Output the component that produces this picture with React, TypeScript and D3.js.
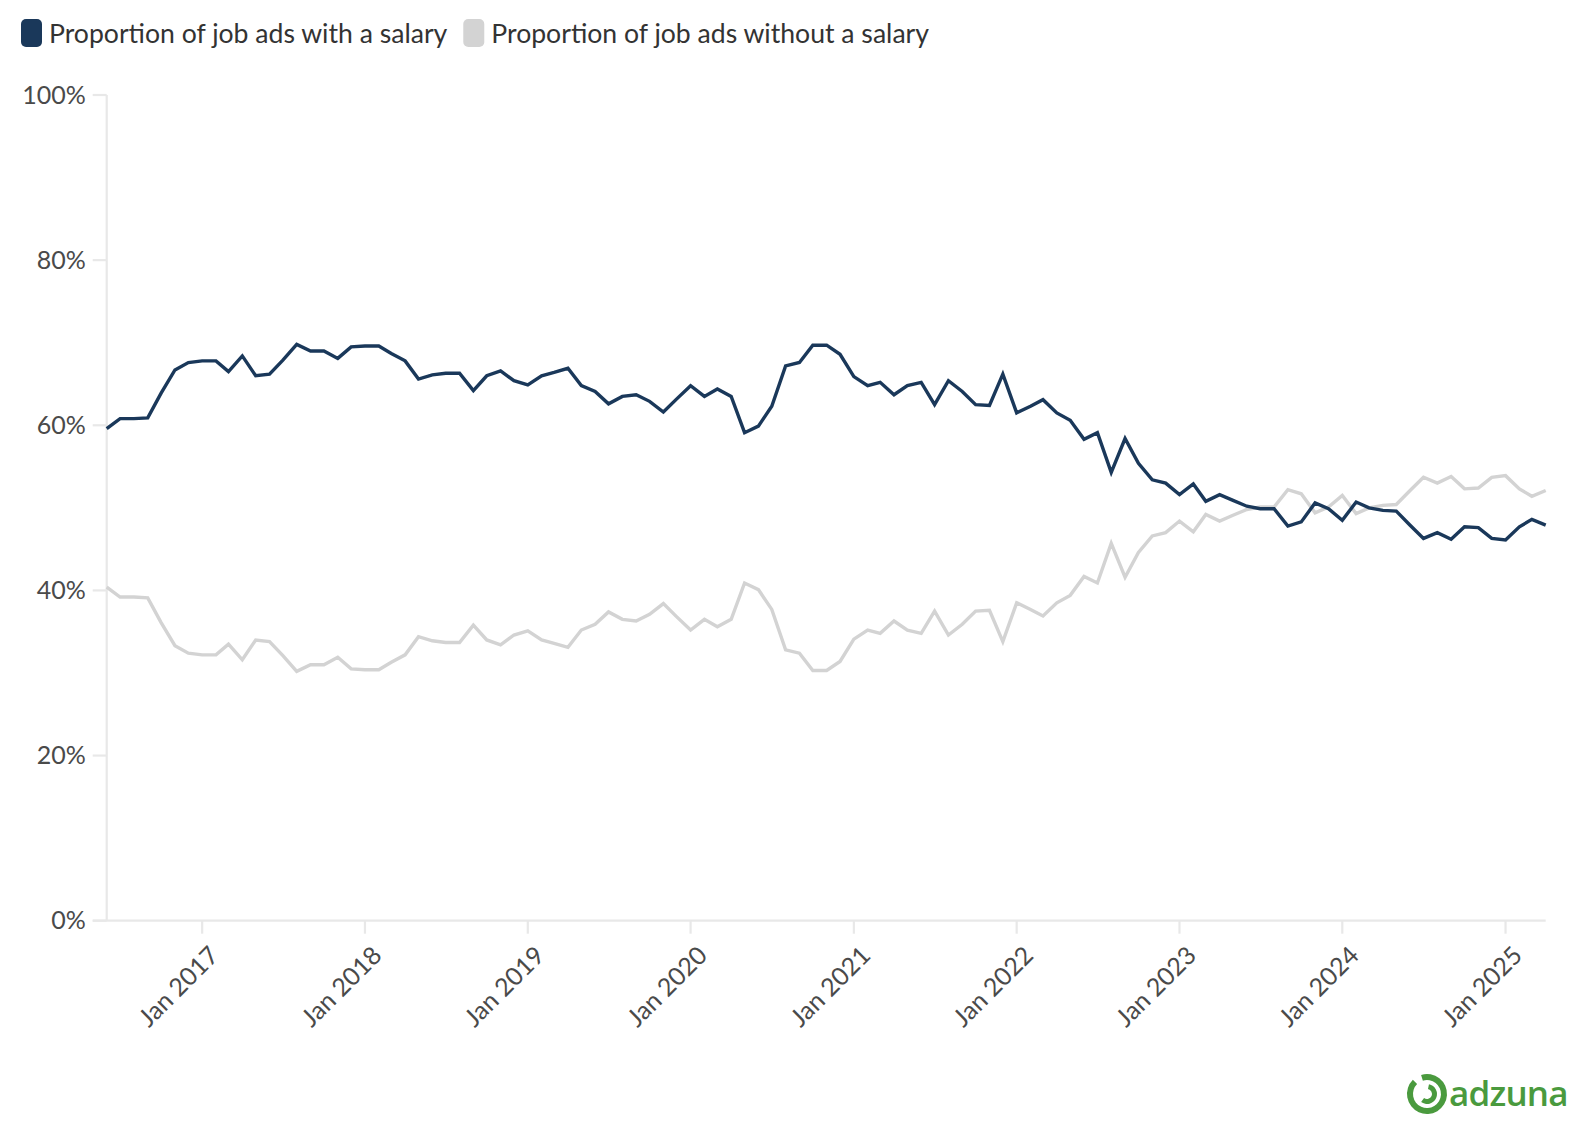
import React, { useEffect, useRef } from "react";
import * as d3 from "d3";

// monthly values, Jun 2016 .. Apr 2025 (percent)
const startMonth = new Date(2016, 5, 1);
const endMonth = new Date(2025, 3, 1);

const withSalary = [
  59.6, 60.8, 60.8, 60.9, 63.9, 66.7, 67.6, 67.8, 67.8, 66.5,
  68.4, 66.0, 66.2, 67.9, 69.8, 69.0, 69.0, 68.1, 69.5, 69.6,
  69.6, 68.7, 67.8, 65.6, 66.1, 66.3, 66.3, 64.2, 66.0, 66.6,
  65.4, 64.9, 66.0, 66.4, 66.9, 64.8, 64.1, 62.6, 63.5, 63.7,
  62.9, 61.6, 63.2, 64.8, 63.5, 64.4, 63.5, 59.1, 59.9, 62.3,
  67.2, 67.6, 69.7, 69.7, 68.6, 65.9, 64.8, 65.2, 63.7, 64.8,
  65.2, 62.5, 65.4, 64.1, 62.5, 62.4, 66.2, 61.5, 62.3, 63.1,
  61.5, 60.6, 58.3, 59.1, 54.3, 58.4, 55.4, 53.4, 53.0, 51.6,
  52.9, 50.8, 51.6, 50.9, 50.2, 49.9, 49.9, 47.8, 48.3, 50.6,
  49.9, 48.5, 50.7, 50.0, 49.7, 49.6, 47.9, 46.3, 47.0, 46.2,
  47.7, 47.6, 46.3, 46.1, 47.7, 48.6, 47.9,
];

const withoutSalary = [
  40.4, 39.2, 39.2, 39.1, 36.1, 33.3, 32.4, 32.2, 32.2, 33.5,
  31.6, 34.0, 33.8, 32.1, 30.2, 31.0, 31.0, 31.9, 30.5, 30.4,
  30.4, 31.3, 32.2, 34.4, 33.9, 33.7, 33.7, 35.8, 34.0, 33.4,
  34.6, 35.1, 34.0, 33.6, 33.1, 35.2, 35.9, 37.4, 36.5, 36.3,
  37.1, 38.4, 36.8, 35.2, 36.5, 35.6, 36.5, 40.9, 40.1, 37.7,
  32.8, 32.4, 30.3, 30.3, 31.4, 34.1, 35.2, 34.8, 36.3, 35.2,
  34.8, 37.5, 34.6, 35.9, 37.5, 37.6, 33.8, 38.5, 37.7, 36.9,
  38.5, 39.4, 41.7, 40.9, 45.7, 41.6, 44.6, 46.6, 47.0, 48.4,
  47.1, 49.2, 48.4, 49.1, 49.8, 50.1, 50.1, 52.2, 51.7, 49.4,
  50.1, 51.5, 49.3, 50.0, 50.3, 50.4, 52.1, 53.7, 53.0, 53.8,
  52.3, 52.4, 53.7, 53.9, 52.3, 51.4, 52.1,
];

const seriesNames = [
  "Proportion of job ads with a salary",
  "Proportion of job ads without a salary",
];
const seriesColors = ["#1a385a", "#d3d3d3"];
const yTicks = [0, 20, 40, 60, 80, 100];

const FONT = "'Source Sans Pro', Lato, 'Noto Sans', sans-serif";

const App: React.FC = () => {
  const ref = useRef<SVGSVGElement>(null);

  useEffect(() => {
    document.body.style.margin = "0";
    const width = 1582;
    const height = 1136;
    const m = { left: 106.7, right: 1545.7, top: 95, bottom: 920.7 };

    const svg = d3.select(ref.current);
    svg.selectAll("*").remove();
    svg.attr("width", width).attr("height", height);

    // faint shadow at the bottom right
    const defs = svg.append("defs");
    const grad = defs
      .append("radialGradient")
      .attr("id", "shade")
      .attr("cx", "50%")
      .attr("cy", "100%")
      .attr("r", "60%");
    grad.append("stop").attr("offset", "0%").attr("stop-color", "#ececec").attr("stop-opacity", 0.9);
    grad.append("stop").attr("offset", "100%").attr("stop-color", "#ffffff").attr("stop-opacity", 0);
    svg
      .append("ellipse")
      .attr("cx", 1230)
      .attr("cy", 1170)
      .attr("rx", 520)
      .attr("ry", 120)
      .attr("fill", "url(#shade)");

    const months = withSalary.map((_, i) => d3.timeMonth.offset(startMonth, i));

    const x = d3.scaleTime().domain([startMonth, endMonth]).range([m.left, m.right]);
    const y = d3.scaleLinear().domain([0, 100]).range([m.bottom, m.top]);

    // y axis
    const yAxis = svg.append("g");
    yAxis
      .append("line")
      .attr("x1", m.left)
      .attr("x2", m.left)
      .attr("y1", m.top)
      .attr("y2", m.bottom)
      .attr("stroke", "#e8e8e8")
      .attr("stroke-width", 2.2);
    yTicks.forEach((t) => {
      yAxis
        .append("line")
        .attr("x1", m.left - 14)
        .attr("x2", m.left)
        .attr("y1", y(t))
        .attr("y2", y(t))
        .attr("stroke", "#e8e8e8")
        .attr("stroke-width", 2.2);
      yAxis
        .append("text")
        .attr("x", m.left - 21)
        .attr("y", y(t))
        .attr("dy", "0.35em")
        .attr("text-anchor", "end")
        .attr("font-family", FONT)
        .attr("font-size", 25)
        .attr("fill", "#4a4a4a")
        .text(`${t}%`);
    });

    // x axis
    const xAxis = svg.append("g");
    xAxis
      .append("line")
      .attr("x1", m.left - 14)
      .attr("x2", m.right)
      .attr("y1", m.bottom)
      .attr("y2", m.bottom)
      .attr("stroke", "#e8e8e8")
      .attr("stroke-width", 2.2);
    const years = d3.timeYear.range(new Date(2017, 0, 1), endMonth);
    const fmt = d3.timeFormat("Jan %Y");
    years.forEach((d) => {
      const px = x(d);
      xAxis
        .append("line")
        .attr("x1", px)
        .attr("x2", px)
        .attr("y1", m.bottom)
        .attr("y2", m.bottom + 13)
        .attr("stroke", "#e8e8e8")
        .attr("stroke-width", 2.2);
      xAxis
        .append("text")
        .attr("transform", `translate(${px + 12},${m.bottom + 30}) rotate(-45)`)
        .attr("text-anchor", "end")
        .attr("dy", "0.35em")
        .attr("font-family", FONT)
        .attr("font-size", 25)
        .attr("fill", "#4a4a4a")
        .text(fmt(d));
    });

    // lines
    const line = d3
      .line<number>()
      .x((_, i) => x(months[i]))
      .y((d) => y(d));

    [withoutSalary, withSalary].forEach((s, k) => {
      svg
        .append("path")
        .datum(s)
        .attr("fill", "none")
        .attr("stroke", seriesColors[1 - k])
        .attr("stroke-width", 3.4)
        .attr("d", line);
    });

    // legend
    const legend = svg.append("g");
    let lx = 21;
    seriesNames.forEach((name, i) => {
      legend
        .append("rect")
        .attr("x", lx)
        .attr("y", 19)
        .attr("width", 21)
        .attr("height", 28)
        .attr("rx", 5)
        .attr("fill", seriesColors[i]);
      const t = legend
        .append("text")
        .attr("x", lx + 28)
        .attr("y", 34)
        .attr("dy", "0.35em")
        .attr("font-family", FONT)
        .attr("font-size", 26.6)
        .attr("fill", "#333")
        .text(name);
      const w = (t.node() as SVGTextElement).getComputedTextLength();
      lx += 28 + w + 16;
    });

    // logo
    const logo = svg.append("g").attr("fill", "#4a9a3e");
    logo
      .append("path")
      .attr(
        "d",
        d3.arc()({ innerRadius: 14, outerRadius: 20, startAngle: -0.3, endAngle: Math.PI * 1.75 }) as string
      )
      .attr("transform", "translate(1427,1094)");
    logo
      .append("path")
      .attr(
        "d",
        d3.arc()({ innerRadius: 5, outerRadius: 10, startAngle: 0.2, endAngle: Math.PI * 1.2 }) as string
      )
      .attr("transform", "translate(1427,1094)");
    logo
      .append("text")
      .attr("x", 1449)
      .attr("y", 1106)
      .attr("font-family", "'Open Sans', 'Noto Sans', sans-serif")
      .attr("font-weight", 600)
      .attr("font-size", 35)
      .attr("letter-spacing", -0.8)
      .text("adzuna");
  }, []);

  return <svg ref={ref} style={{ display: "block" }} />;
};

export default App;
